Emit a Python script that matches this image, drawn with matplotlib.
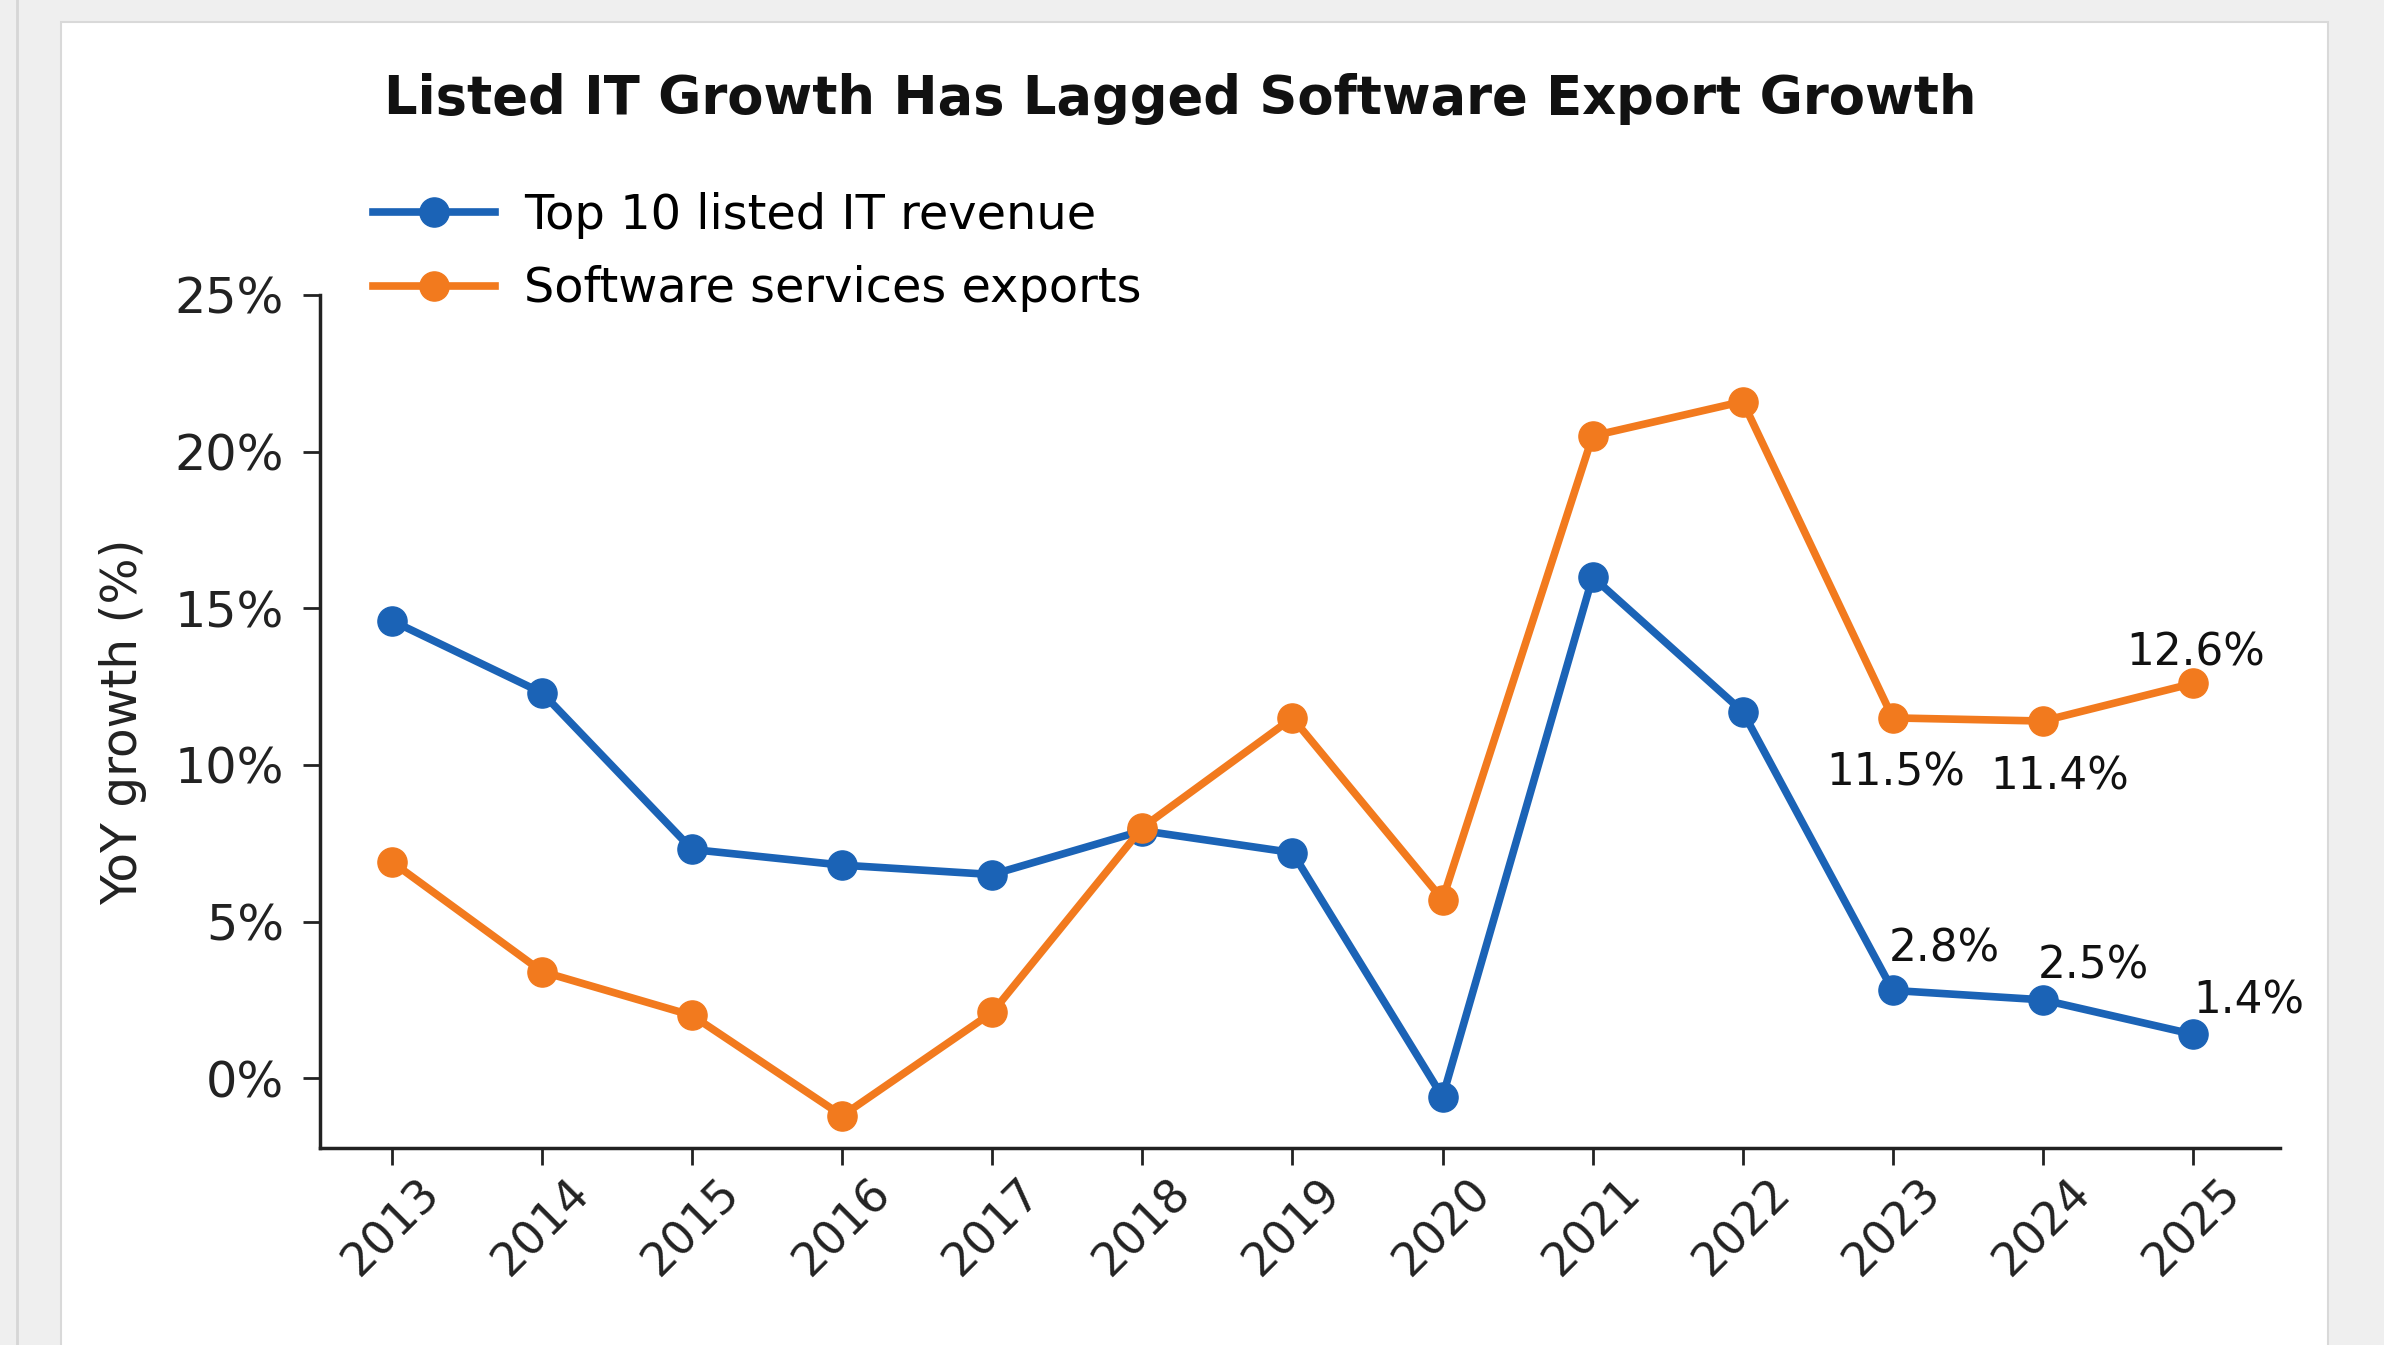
import matplotlib
matplotlib.use("Agg")
import matplotlib.pyplot as plt
from matplotlib.patches import Rectangle
from matplotlib.lines import Line2D
from matplotlib.ticker import FuncFormatter

# year-on-year growth, %
years = [2013, 2014, 2015, 2016, 2017, 2018, 2019, 2020, 2021, 2022, 2023, 2024, 2025]
listed_it = [14.6, 12.3, 7.3, 6.8, 6.5, 7.9, 7.2, -0.6, 16.0, 11.7, 2.8, 2.5, 1.4]
sw_exports = [6.9, 3.4, 2.0, -1.2, 2.1, 8.0, 11.5, 5.7, 20.5, 21.6, 11.5, 11.4, 12.6]
yticks = [0, 5, 10, 15, 20, 25]

# value labels: year -> text offset in points
label_offsets_it = {2023: (-3, 30), 2024: (-4, 24), 2025: (0, 24)}
label_offsets_sw = {2023: (2, -40), 2024: (12, -40), 2025: (2, 22)}

BLUE = "#1b63b6"
ORANGE = "#f27a1e"

fig = plt.figure(figsize=(23.84, 13.45), dpi=100, facecolor="#efefef")

# white card behind the chart
fig.patches.append(Rectangle((61 / 2384, -0.01), (2328 - 61) / 2384, 1 - 22 / 1345 + 0.01,
                             transform=fig.transFigure, facecolor="white",
                             edgecolor="#d9d9d9", lw=1.5, zorder=-5))
fig.lines.append(Line2D([17 / 2384, 17 / 2384], [0, 1], transform=fig.transFigure,
                        color="#d6d6d6", lw=2, zorder=-5))

ax = fig.add_axes([320 / 2384, 1 - 1148 / 1345, (2280 - 320) / 2384, (1148 - 295) / 1345])
ax.set_facecolor("none")

ax.plot(years, listed_it, color=BLUE, lw=5.5, marker="o", markersize=21,
        label="Top 10 listed IT revenue", zorder=3)
ax.plot(years, sw_exports, color=ORANGE, lw=5.5, marker="o", markersize=21,
        label="Software services exports", zorder=4)

ax.set_xlim(2012.52, 2025.58)
ax.set_ylim(-2.23, 25)
ax.set_xticks(years)
ax.set_xticklabels([str(y) for y in years], rotation=45)
ax.set_yticks(yticks)
ax.yaxis.set_major_formatter(FuncFormatter(lambda v, p: f"{v:.0f}%"))

for s in ["top", "right"]:
    ax.spines[s].set_visible(False)
for s in ["left", "bottom"]:
    ax.spines[s].set_linewidth(2.5)
    ax.spines[s].set_color("#222222")

ax.tick_params(axis="y", labelsize=35.5, length=12, width=2, pad=14, colors="#222222")
ax.tick_params(axis="x", labelsize=33, length=12, width=2, pad=4, colors="#222222")
ax.set_ylabel("YoY growth (%)", fontsize=35, color="#222222", labelpad=20)

for yr, v in zip(years, listed_it):
    if yr in label_offsets_it:
        ax.annotate(f"{v:.1f}%", (yr, v), xytext=label_offsets_it[yr], textcoords="offset points",
                    ha="left", va="center", fontsize=31.5, color="#111111")
for yr, v in zip(years, sw_exports):
    if yr in label_offsets_sw:
        ax.annotate(f"{v:.1f}%", (yr, v), xytext=label_offsets_sw[yr], textcoords="offset points",
                    ha="center", va="center", fontsize=31.5, color="#111111")

fig.text(1180 / 2384, 1 - 99 / 1345, "Listed IT Growth Has Lagged Software Export Growth",
         ha="center", va="center", fontsize=38, fontweight="bold", color="#111111")

fig.legend(loc="upper left", bbox_to_anchor=(373 / 2384, 1 - 192 / 1345),
           frameon=False, fontsize=34.5, handlelength=2.55, handletextpad=0.6,
           labelspacing=0.55, borderpad=0, borderaxespad=0)

fig.savefig("out.png", dpi=100, facecolor=fig.get_facecolor())
